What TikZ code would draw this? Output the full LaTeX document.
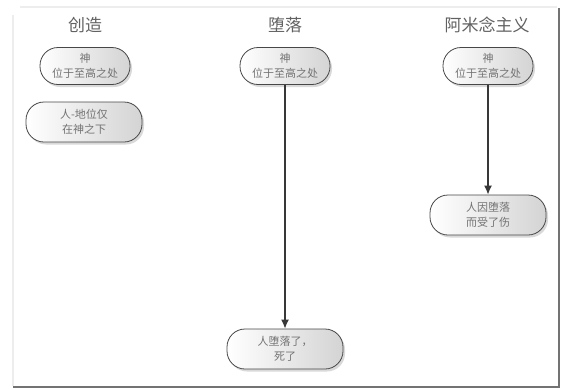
\documentclass[tikz,border=0pt]{standalone}
\usepackage{fontspec}
\setmainfont{Noto Sans CJK SC}
\usetikzlibrary{shadows,arrows.meta}
\tikzset{every node/.style={inner sep=1pt}}
\tikzset{stage/.style={text=black!62, font=\fontsize{17}{20}\selectfont},
         state/.style={draw=black!72, thick, rectangle, rounded corners=18pt,
                       left color=white, right color=black!17,
                       drop shadow={opacity=0.3, shadow xshift=2pt, shadow yshift=-2.5pt},
                       text=black!55, font=\fontsize{11}{15}\selectfont, align=center,
                       minimum width=90pt, minimum height=37pt},
         fallen/.style={state, minimum width=116pt, minimum height=40pt},
         flow/.style={-{Latex[length=9pt,width=8pt]}, line width=1.3pt, black!78}}

\begin{document}
\begin{tikzpicture}[x=1pt,y=-1pt]
   \useasboundingbox (0,0) rectangle (561,389);
   % frame
   \draw[black!7, line width=1.5pt] ( 20,  7) -- (557,  7);
   \draw[black!7, line width=1.5pt] ( 13, 15) -- ( 13,386);
   \draw[black!55, line width=2pt] (559,  8) -- (559,387);
   \draw[black!55, line width=2pt] ( 13,387) -- (560,387);

   % column titles
   \node[stage] (creation) at ( 85,25) {创造};
   \node[stage] (fall)     at (285,25) {堕落};
   \node[stage] (arminian) at (487,25) {阿米念主义};

   % creation
   \node[state]  (godA) at ( 85, 66) {神\\位于至高之处};
   \node[fallen] (manA) at ( 84,122) {人-地位仅\\在神之下};

   % fall
   \node[state]  (godB) at (285, 66) {神\\位于至高之处};
   \node[fallen] (manB) at (285,349) {人堕落了，\\死了};

   % arminianism
   \node[state]  (godC) at (488, 66) {神\\位于至高之处};
   \node[fallen] (manC) at (488,215) {人因堕落\\而受了伤};

   \draw[flow] (godB) -- (manB);
   \draw[flow] (godC) -- (manC);
\end{tikzpicture}
\end{document}
